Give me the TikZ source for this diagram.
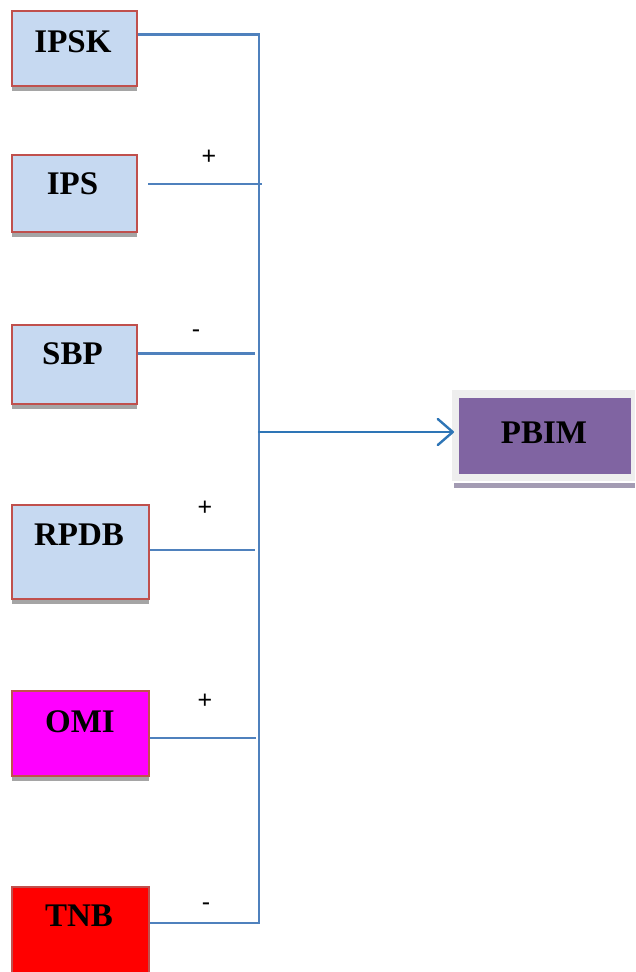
\documentclass[tikz,border=0pt]{standalone}
\usepackage{fontspec}
\setmainfont{Liberation Serif}
\newfontfamily\signfont{Liberation Sans}
\usetikzlibrary{arrows.meta,shadows}

\definecolor{paleblue}{HTML}{C6D9F1}
\definecolor{boxred}{HTML}{C0504D}
\definecolor{wireblue}{HTML}{4F81BD}
\definecolor{arrowblue}{HTML}{2E75B6}
\definecolor{pbimpurple}{HTML}{8064A2}
\definecolor{shadowgray}{HTML}{A5A5A5}
\definecolor{framegray}{HTML}{EEEEEE}
\definecolor{pbimshadow}{HTML}{A39BB3}
\definecolor{brightmagenta}{HTML}{FF00FF}
\definecolor{brightred}{HTML}{FF0000}

\tikzset{
  inbox/.style={draw=boxred, line width=2pt, inner sep=0pt, anchor=north west,
    general shadow={fill=shadowgray, shadow yshift=-5pt}},
  lbl/.style={font=\bfseries\fontsize{33}{38}\selectfont, anchor=base, inner sep=0pt},
  sign/.style={font=\signfont\fontsize{25}{29}\selectfont, inner sep=0pt},
  wire/.style={draw=wireblue, line width=2.2pt},
}

\begin{document}
\begin{tikzpicture}[x=1pt,y=-1pt]
\useasboundingbox (0,0) rectangle (635,972);

% input boxes
\node[inbox, fill=paleblue, minimum width=125pt, minimum height=75pt] (ipsk) at (11,9.5) {};
\node[inbox, fill=paleblue, minimum width=125pt, minimum height=77pt] (ips)  at (11,153.5) {};
\node[inbox, fill=paleblue, minimum width=125pt, minimum height=79pt] (sbp)  at (11,323.5) {};
\node[inbox, fill=paleblue, minimum width=137pt, minimum height=94pt] (rpdb) at (11,503.5) {};
\node[inbox, fill=brightmagenta, minimum width=137pt, minimum height=85pt] (omi) at (11,690) {};
\node[inbox, fill=brightred, minimum width=137pt, minimum height=90pt] (tnb)  at (11,885.5) {};

\node[lbl] (ipsk-t) at (73,52) {IPSK};
\node[lbl] (ips-t)  at (72.5,194) {IPS};
\node[lbl] (sbp-t)  at (72.5,364) {SBP};
\node[lbl] (rpdb-t) at (79,545) {RPDB};
\node[lbl] (omi-t)  at (80,732) {OMI};
\node[lbl] (tnb-t)  at (79,926) {TNB};

% output box with its pale frame and bottom bar
\fill[framegray] (452,390) rectangle (635,481);
\fill[pbimshadow] (454,482.5) rectangle (635,487.5);
\node[fill=pbimpurple, inner sep=0pt, anchor=north west,
      minimum width=172pt, minimum height=76pt] (pbim) at (459,398) {};
\node[lbl] (pbim-t) at (544,443) {PBIM};

% collecting bus
\coordinate (bustop) at (259,34.5);
\coordinate (busbot) at (259,923);
\coordinate (busmid) at (259,432);
\coordinate (ips-w)  at (148,184);
\coordinate (ips-e)  at (262,184);
\coordinate (sbp-e)  at (255,353.5);
\coordinate (rpdb-e) at (255,550);
\coordinate (omi-e)  at (256,738);
\coordinate (arrow-e) at (454,432);

\draw[wire] (ipsk.east |- bustop) -- (bustop) -- (busbot) -- (tnb.east |- busbot);
\draw[wire] (ips-w) -- (ips-e);
\draw[wire] (sbp.east |- sbp-e) -- (sbp-e);
\draw[wire] (rpdb.east |- rpdb-e) -- (rpdb-e);
\draw[wire] (omi.east |- omi-e) -- (omi-e);
\draw[draw=arrowblue, line width=2.4pt, line cap=round,
      -{Straight Barb[length=15pt,width=26pt,line width=2.4pt,round]}]
  (busmid) -- (arrow-e);

% signs
\node[sign] (s-ips)  at (209,157) {+};
\node[sign] (s-sbp)  at (196,334) {-};
\node[sign] (s-rpdb) at (205,508) {+};
\node[sign] (s-omi)  at (205,701) {+};
\node[sign] (s-tnb)  at (206,907) {-};
\end{tikzpicture}
\end{document}
